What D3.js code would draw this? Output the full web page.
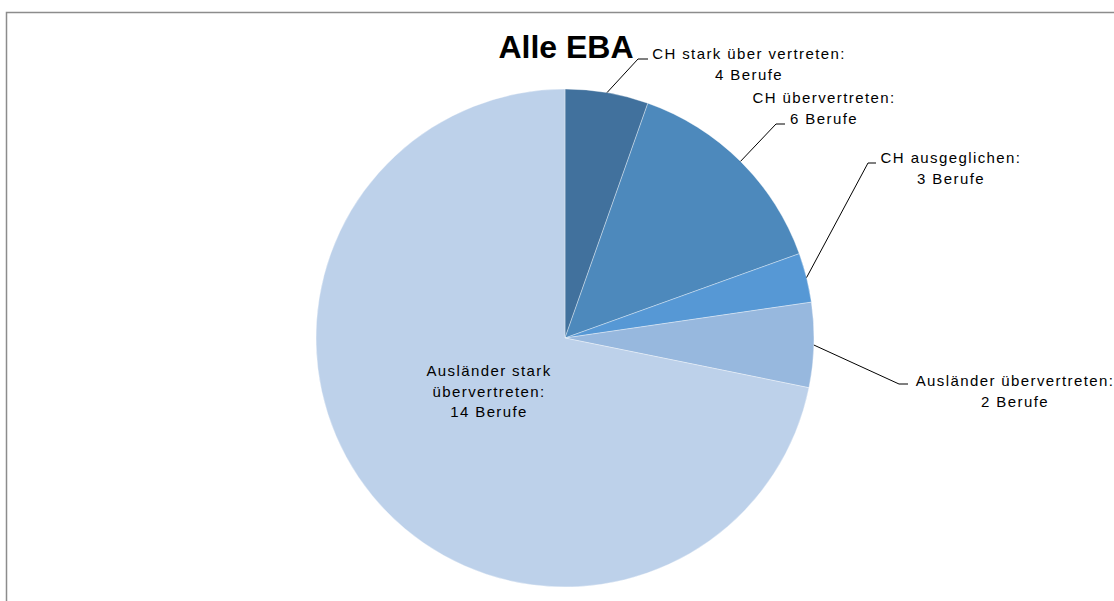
<!DOCTYPE html>
<html>
<head>
<meta charset="utf-8">
<script src="https://cdn.jsdelivr.net/npm/d3@7"></script>
<style>
  html, body { margin: 0; padding: 0; background: #fff; }
  svg { display: block; }
  text { font-family: "Liberation Sans", Arial, sans-serif; }
</style>
</head>
<body>
<svg id="chart" width="1114" height="601"></svg>
<script>
// ---- data ----
const title = "Alle EBA";
const categories = ["CH stark über vertreten", "CH übervertreten", "CH ausgeglichen", "Ausländer übervertreten", "Ausländer stark übervertreten"];
const counts = [4, 6, 3, 2, 14];
const shares = [5.4, 14.1, 3.2, 5.5, 71.8];
const labelLines = [
  ["CH stark über vertreten:", "4 Berufe"],
  ["CH übervertreten:", "6 Berufe"],
  ["CH ausgeglichen:", "3 Berufe"],
  ["Ausländer übervertreten:", "2 Berufe"],
  ["Ausländer stark", "übervertreten:", "14 Berufe"]
];
const colors = ["#41719d", "#4d89bc", "#5698d5", "#97b8de", "#bdd1ea"];

// ---- layout ----
const W = 1114, H = 601;
const cx = 565, cy = 338, R = 249;
// label layout: elbow and text anchor (relative to center), outside = leader line drawn
const labelLayout = [
  { outside: true, elbow: [73, -279], end: [83, -279], tx: 184, ty: -279 },
  { outside: true, elbow: [211, -214], end: [220, -214], tx: 259, ty: -235 },
  { outside: true, elbow: [303, -175], end: [311, -175], tx: 386, ty: -175 },
  { outside: true, elbow: [334, 46], end: [343, 46], tx: 450, ty: 48 },
  { outside: false, tx: -76, ty: 38 }
];

const svg = d3.select("#chart");

// border (chart area frame)
svg.append("rect")
  .attr("x", 6.5).attr("y", 12.5)
  .attr("width", W + 20).attr("height", H + 20)
  .attr("fill", "none")
  .attr("stroke", "#8c8c8c")
  .attr("stroke-width", 1.5);

const data = categories.map((c, i) => ({ cat: c, count: counts[i], share: shares[i], i }));

const pie = d3.pie().sort(null).value(d => d.share);
const arcs = pie(data);
const arc = d3.arc().innerRadius(0).outerRadius(R);

const g = svg.append("g").attr("transform", `translate(${cx},${cy})`);

g.selectAll("path.slice")
  .data(arcs)
  .join("path")
  .attr("class", "slice")
  .attr("d", arc)
  .attr("fill", d => colors[d.data.i])
  .attr("stroke", "rgba(255,255,255,0.45)")
  .attr("stroke-width", 0.8);

// leader lines
arcs.forEach(a => {
  const L = labelLayout[a.data.i];
  if (!L.outside) return;
  const mid = (a.startAngle + a.endAngle) / 2;
  const p0 = [R * Math.sin(mid), -R * Math.cos(mid)];
  g.append("polyline")
    .attr("points", [p0, L.elbow, L.end].map(p => p.join(",")).join(" "))
    .attr("fill", "none")
    .attr("stroke", "#000")
    .attr("stroke-width", 1);
});

// labels
const lineH = 20.5;
arcs.forEach(a => {
  const L = labelLayout[a.data.i];
  const lines = labelLines[a.data.i];
  const t = g.append("text")
    .attr("text-anchor", "middle")
    .attr("font-size", 15)
    .attr("letter-spacing", "1.4px")
    .attr("fill", "#000");
  lines.forEach((ln, k) => {
    t.append("tspan")
      .attr("x", L.tx)
      .attr("y", L.ty + k * lineH)
      .text(ln);
  });
});

// title
svg.append("text")
  .attr("x", 566).attr("y", 58)
  .attr("text-anchor", "middle")
  .attr("font-size", 32)
  .attr("font-weight", "bold")
  .attr("fill", "#000")
  .text(title);
</script>
</body>
</html>
